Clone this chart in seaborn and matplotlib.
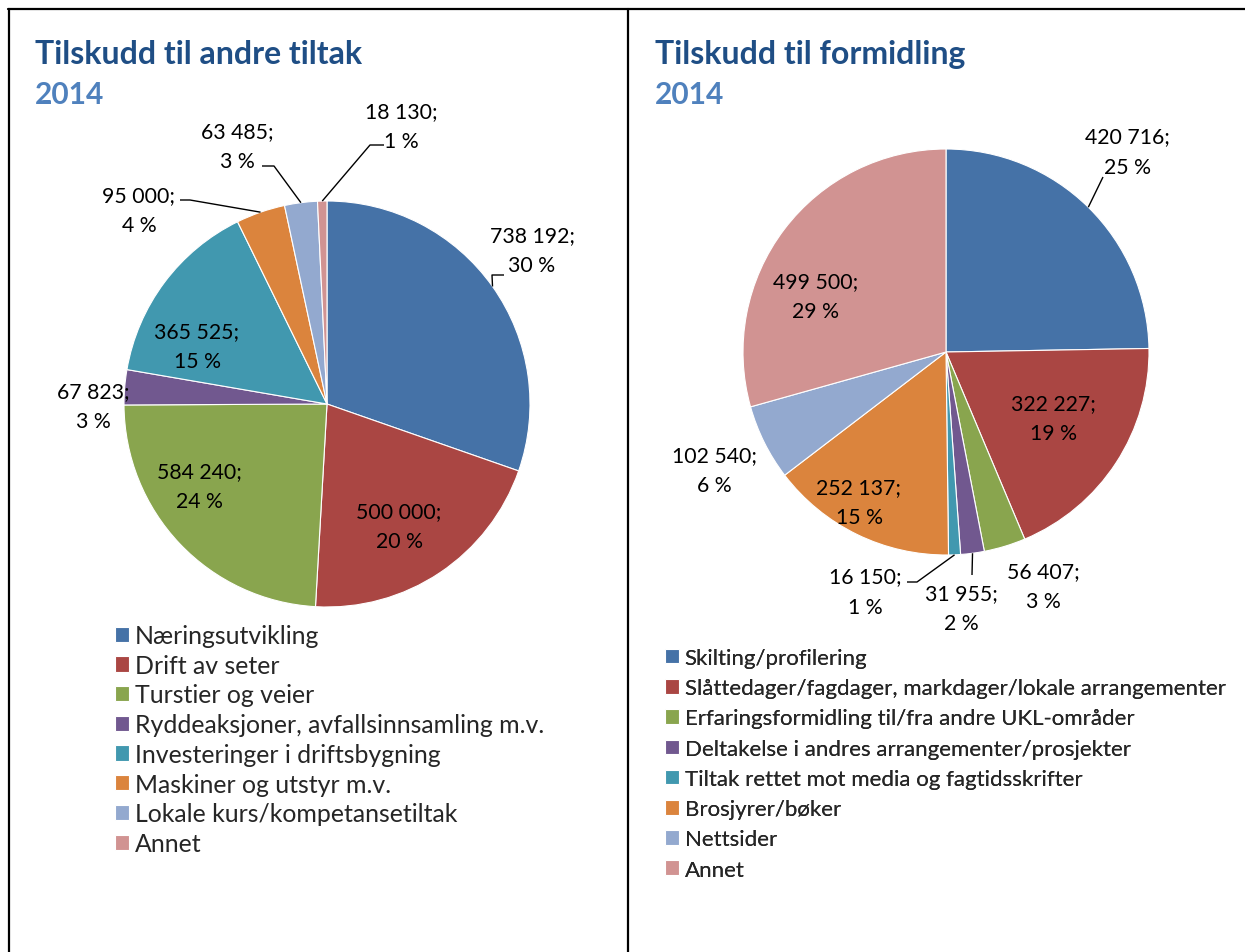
import matplotlib

matplotlib.use("Agg")
import matplotlib.pyplot as plt
import numpy as np
import seaborn as sns

# ── data ─────────────────────────────────────────────────────
left_title = "Tilskudd til andre tiltak"
left_cats = [
    "Næringsutvikling",
    "Drift av seter",
    "Turstier og veier",
    "Ryddeaksjoner, avfallsinnsamling m.v.",
    "Investeringer i driftsbygning",
    "Maskiner og utstyr m.v.",
    "Lokale kurs/kompetansetiltak",
    "Annet",
]
left_vals = [738192, 500000, 584240, 67823, 365525, 95000, 63485, 18130]
left_pct = [30, 20, 24, 3, 15, 4, 3, 1]

right_title = "Tilskudd til formidling"
right_cats = [
    "Skilting/profilering",
    "Slåttedager/fagdager, markdager/lokale arrangementer",
    "Erfaringsformidling til/fra andre UKL-områder",
    "Deltakelse i andres arrangementer/prosjekter",
    "Tiltak rettet mot media og fagtidsskrifter",
    "Brosjyrer/bøker",
    "Nettsider",
    "Annet",
]
right_vals = [420716, 322227, 56407, 31955, 16150, 252137, 102540, 499500]
right_pct = [25, 19, 3, 2, 1, 15, 6, 29]

year = "2014"

# ── style ────────────────────────────────────────────────────
sns.set_theme(style="white")
plt.rcParams["font.family"] = ["Lato", "DejaVu Sans"]

colors = sns.color_palette(
    ["#4572A7", "#AA4643", "#89A54E", "#71588F", "#4198AF", "#DB843D", "#93A9CF", "#D19392"]
)
TITLE_DARK = "#1F4E85"
TITLE_LIGHT = "#4F81BD"

W, H = 1245, 953
fig = plt.figure(figsize=(W / 100, H / 100), dpi=100)
ax = fig.add_axes([0, 0, 1, 1])


def P(x, y):
    """pixel (from top-left) -> data coords"""
    return x, H - y


R = 203

# label layout: block centres in px, and optional leader-line elbows
left_layout = {
    "center": (327, 405),
    "labels": [(532, 250), (399, 526), (199, 486), (93, 406),
               (197, 346), (139, 210), (237, 146), (401, 126)],
    "leaders": {0: [(492, 276), (504, 276)],
                5: [(190, 201), (180, 201)],
                6: [(274, 167), (262, 167)],
                7: [(370, 146), (384, 146)]},
    "legend": (115, 625),
    "legend_fs": 17.9,
    "spacing": 0.27,
}
right_layout = {
    "center": (946, 353),
    "labels": [(1127, 151), (1053, 418), (1043, 586), (961, 608),
               (865, 591), (859, 502), (714, 470), (816, 296)],
    "leaders": {0: [(1103, 178)],
                3: [(972, 576)],
                4: [(917, 583), (907, 583)]},
    "legend": (665, 649),
    "legend_fs": 16,
    "spacing": 0.46,
}


def draw(vals, pct, cats, title, lay, tx):
    cx, cy = P(*lay["center"])
    wedges, _ = ax.pie(
        vals,
        colors=colors,
        startangle=90,
        counterclock=False,
        radius=R,
        center=(cx, cy),
        wedgeprops={"linewidth": 0.8, "edgecolor": "white"},
    )
    # labels
    frac = np.cumsum(vals) / np.sum(vals)
    mids = frac - np.array(vals) / np.sum(vals) / 2
    for i, (v, p) in enumerate(zip(vals, pct)):
        lx, ly = lay["labels"][i]
        line1 = f"{v:,}".replace(",", " ") + ";"
        line2 = f"{p} %"
        ax.text(*P(lx, ly - 7.5), line1, ha="center", va="baseline", fontsize=15.3, color="black")
        ax.text(*P(lx, ly + 22.5), line2, ha="center", va="baseline", fontsize=15.3, color="black")
        if i in lay["leaders"]:
            ang = np.deg2rad(90 - 360 * mids[i])
            ex, ey = cx + R * np.cos(ang), cy + R * np.sin(ang)
            pts = [(ex, ey)] + [P(*q) for q in lay["leaders"][i]]
            xs, ys = zip(*pts)
            ax.plot(xs, ys, color="black", lw=1.0, solid_capstyle="butt")
    # titles
    ax.text(*P(tx, 64), title, fontsize=23, fontweight="bold", color=TITLE_DARK, va="baseline")
    ax.text(*P(tx, 104), year, fontsize=21.5, fontweight="bold", color=TITLE_LIGHT, va="baseline")
    # legend
    fs = lay["legend_fs"]
    sq = 14 / (fs * 100 / 72)
    lx, ly = P(*lay["legend"])
    leg = ax.legend(
        wedges,
        cats,
        loc="upper left",
        bbox_to_anchor=(lx / W, ly / H),
        bbox_transform=fig.transFigure,
        frameon=False,
        fontsize=fs,
        handlelength=sq,
        handleheight=sq,
        handletextpad=0.25,
        labelspacing=lay["spacing"],
        borderpad=0,
        borderaxespad=0,
    )
    ax.add_artist(leg)


draw(left_vals, left_pct, left_cats, left_title, left_layout, 35)
draw(right_vals, right_pct, right_cats, right_title, right_layout, 655)

# table borders
ax.plot([8, W], [H - 9.5, H - 9.5], color="black", lw=1.6, clip_on=False)
ax.plot([8.5, 8.5], [0, H - 9.5], color="black", lw=1.6, clip_on=False)
ax.plot([628, 628], [0, H - 9.5], color="black", lw=1.6, clip_on=False)

ax.set_xlim(0, W)
ax.set_ylim(0, H)
ax.set_aspect("auto")
ax.axis("off")

fig.savefig("out.png", dpi=100)
